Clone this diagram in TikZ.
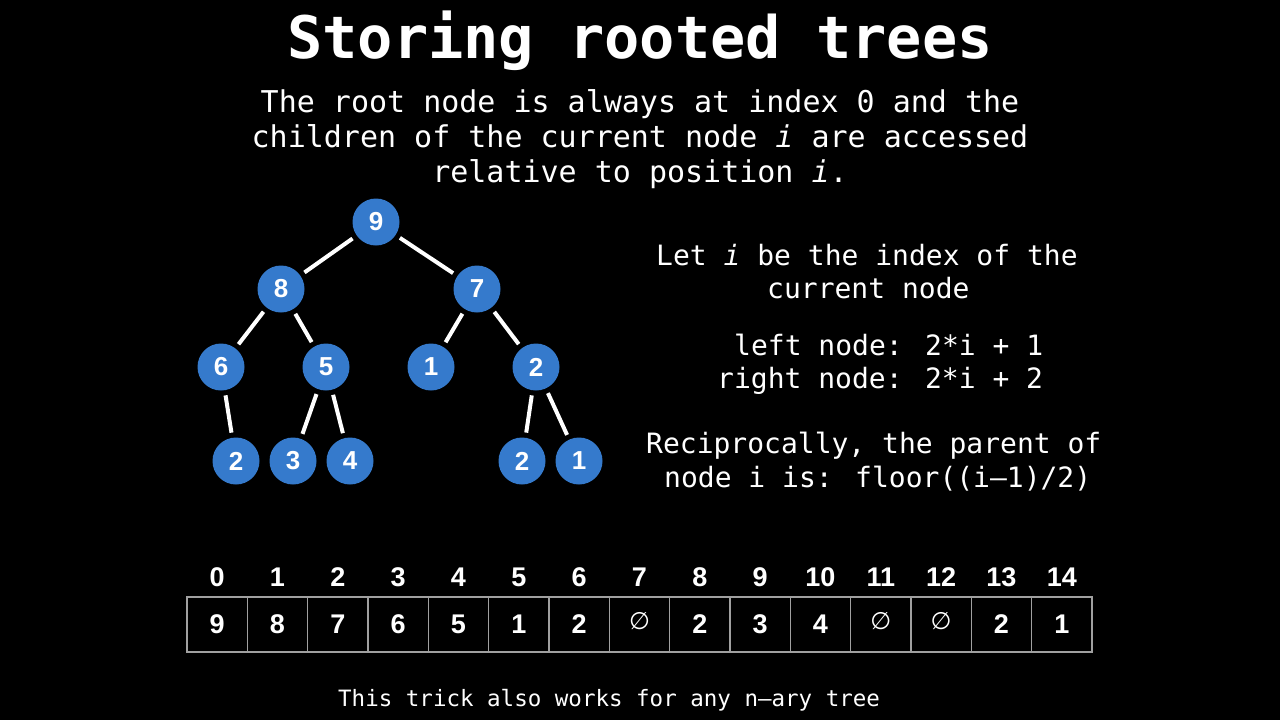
\documentclass[tikz,border=0pt]{standalone}
\usepackage{fontspec}
\newfontfamily\mono{DejaVu Sans Mono}[ItalicFont={DejaVu Sans Mono Oblique},BoldFont={DejaVu Sans Mono Bold}]
\newfontfamily\hel{Liberation Sans}
\newfontfamily\djs{DejaVu Sans}
\definecolor{nodeblue}{RGB}{53,122,204}
\definecolor{cellgray}{RGB}{160,160,160}
\def\emptymark{E}
\begin{document}
\begin{tikzpicture}[x=1pt,y=-1pt,
  treenode/.style={circle, fill=nodeblue, minimum size=47pt, inner sep=0pt, text=white, font=\hel\bfseries\fontsize{26}{26}\selectfont},
  treeedge/.style={draw=white, line width=4pt, shorten <=5pt, shorten >=5pt},
  cellbox/.style={draw=cellgray, line width=1.2pt, minimum width=60.33pt, minimum height=55pt, inner sep=0pt, text=white, font=\hel\bfseries\fontsize{27}{27}\selectfont},
  idxlabel/.style={inner sep=0pt, text=white, font=\hel\bfseries\fontsize{27}{27}\selectfont},
  monotext/.style={inner sep=0pt, text=white, anchor=base},
  sidetext/.style={inner sep=0pt, text=white, anchor=base west, font=\mono\fontsize{28}{28}\selectfont}
]
\fill[black] (0,0) rectangle (1280,720);
\useasboundingbox (0,0) rectangle (1280,720);

% title
\node[monotext, font=\mono\bfseries\fontsize{58.6}{58.6}\selectfont] (title) at (640,58) {Storing rooted trees};

% subtitle
\node[monotext, font=\mono\fontsize{30}{30}\selectfont] (sub1) at (640,112) {The root node is always at index 0 and the};
\node[monotext, font=\mono\fontsize{30}{30}\selectfont] (sub2) at (640,147) {children of the current node \textit{i} are accessed};
\node[monotext, font=\mono\fontsize{30}{30}\selectfont] (sub3) at (640,182) {relative to position \textit{i}.};

% side text
\node[sidetext] (s1) at (656,265) {Let \textit{i} be the index of the};
\node[sidetext] (s2) at (767,298) {current node};
\node[sidetext] (s3) at (734,355) {left node: 2*i + 1};
\node[sidetext] (s4) at (717,388) {right node: 2*i + 2};
\node[sidetext] (s5) at (646,453) {Reciprocally, the parent of};
\node[sidetext] (s6) at (664,487) {node i is: floor((i–1)/2)};

% bottom
\node[inner sep=0pt, text=white, anchor=base west, font=\mono\fontsize{22.5}{22.5}\selectfont] (foot) at (338,706) {This trick also works for any n–ary tree};

% tree
\node[treenode] (n0) at (376,222) {9};
\node[treenode] (n1) at (281,289) {8};
\node[treenode] (n2) at (477,289) {7};
\node[treenode] (n3) at (221,367) {6};
\node[treenode] (n4) at (326,367) {5};
\node[treenode] (n5) at (431,367) {1};
\node[treenode] (n6) at (536,367) {2};
\node[treenode] (n7) at (236,461) {2};
\node[treenode] (n9) at (293,461) {3};
\node[treenode] (n10) at (350,461) {4};
\node[treenode] (n13) at (522,461) {2};
\node[treenode] (n14) at (579,461) {1};

\draw[treeedge] (n0) -- (n1);
\draw[treeedge] (n0) -- (n2);
\draw[treeedge] (n1) -- (n3);
\draw[treeedge] (n1) -- (n4);
\draw[treeedge] (n2) -- (n5);
\draw[treeedge] (n2) -- (n6);
\draw[treeedge] (n3) -- (n7);
\draw[treeedge] (n4) -- (n9);
\draw[treeedge] (n4) -- (n10);
\draw[treeedge] (n6) -- (n13);
\draw[treeedge] (n6) -- (n14);

% array
\foreach \v [count=\i from 0] in {9,8,7,6,5,1,2,E,2,3,4,E,E,2,1} {
  \pgfmathsetmacro{\cx}{187+60.33*(\i+0.5)}
  \node[idxlabel] (idx\i) at (\cx,577.5) {\i};
  \ifx\v\emptymark
    \node[cellbox] (c\i) at (\cx,624.5) {};
    \node[inner sep=0pt, text=white, font=\djs\fontsize{24}{24}\selectfont] (e\i) at (\cx,621) {∅};
  \else
    \node[cellbox] (c\i) at (\cx,624.5) {\v};
  \fi
}
\end{tikzpicture}
\end{document}
